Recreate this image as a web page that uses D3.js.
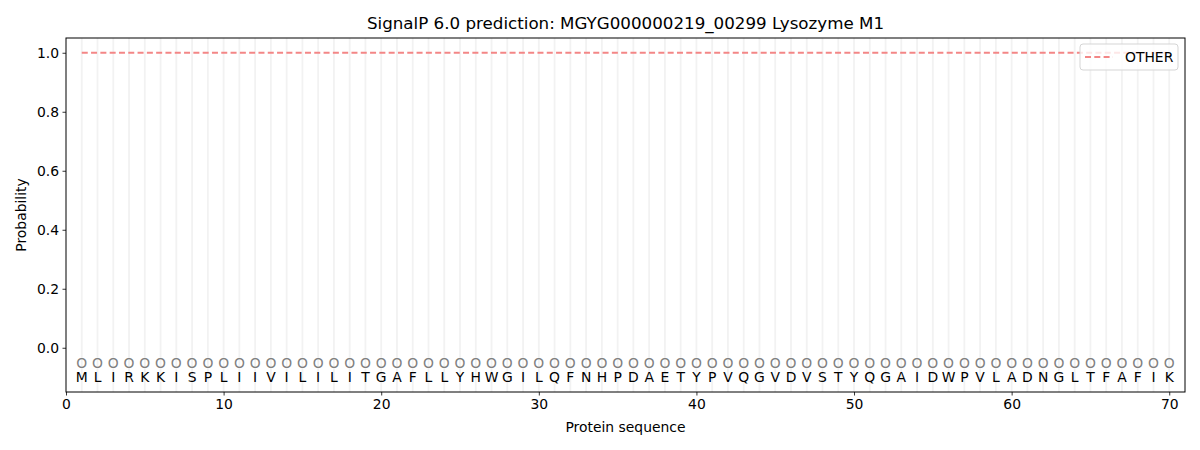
<!DOCTYPE html>
<html>
<head>
<meta charset="utf-8">
<script src="https://cdn.jsdelivr.net/npm/d3@7"></script>
<style>
body { margin: 0; background: #fff; }
text { font-family: "DejaVu Sans", sans-serif; }
</style>
</head>
<body>
<div class="chart"></div>
<script>
// residues of the protein, one letter each
const sequence = "MLIRKKISPLIIVILILITGAFLLYHWGILQFNHPDAETYPVQGVDVSTYQGAIDWPVLADNGLTFAFIK".split("")
// predicted label per residue (O = other)
const labels = sequence.map(() => "O")
// probability of OTHER per residue
const otherProb = [
  1,1,1,1,1,1,1,1,1,1, 1,1,1,1,1,1,1,1,1,1,
  1,1,1,1,1,1,1,1,1,1, 1,1,1,1,1,1,1,1,1,1,
  1,1,1,1,1,1,1,1,1,1, 1,1,1,1,1,1,1,1,1,1,
  1,1,1,1,1,1,1,1,1,1
]
const xTicks = [0, 10, 20, 30, 40, 50, 60, 70]
const yTicks = [0.0, 0.2, 0.4, 0.6, 0.8, 1.0]

const margin = { top: 38, right: 15, bottom: 58, left: 66 }
const W = 1200, H = 450
const width = W - margin.left - margin.right
const height = H - margin.top - margin.bottom

const svgRoot = d3.select('.chart').append('svg')
  .attr('width', W).attr('height', H)

const svg = svgRoot.append('g')
  .attr('transform', `translate(${margin.left},${margin.top})`)

const x = d3.scaleLinear().domain([0, 71]).range([0, width])
const y = d3.scaleLinear().domain([-0.15, 1.05]).range([height, 0])

const pos = sequence.map((d, i) => i + 1)

// vertical grid at each residue
svg.selectAll('.vgrid').data(pos).enter()
  .append('line')
  .attr('class', 'vgrid')
  .attr('x1', d => x(d)).attr('x2', d => x(d))
  .attr('y1', 0).attr('y2', height)
  .attr('stroke', '#f2f2f2').attr('stroke-width', 1.8)

// other line
const line = d3.line().x((d, i) => x(i + 1)).y(d => y(d))
svg.append('path')
  .attr('d', line(otherProb))
  .attr('fill', 'none')
  .attr('stroke', '#f38686')
  .attr('stroke-width', 2)
  .attr('stroke-dasharray', '6,3.3')

// label markers
svg.selectAll('.lab').data(labels).enter()
  .append('text')
  .attr('x', (d, i) => x(i + 1))
  .attr('y', y(-0.05))
  .attr('text-anchor', 'middle')
  .attr('dominant-baseline', 'central')
  .attr('font-size', '13.9px')
  .attr('fill', '#808080')
  .text(d => d)

// residue letters
svg.selectAll('.res').data(sequence).enter()
  .append('text')
  .attr('x', (d, i) => x(i + 1))
  .attr('y', y(-0.1))
  .attr('text-anchor', 'middle')
  .attr('dominant-baseline', 'central')
  .attr('font-size', '13.9px')
  .attr('fill', 'black')
  .text(d => d)

// axes
const xAxis = svg.append('g')
  .attr('transform', `translate(0,${height})`)
  .call(d3.axisBottom(x).tickValues(xTicks).tickFormat(d3.format('d')).tickSizeOuter(0).tickSize(3.5).tickPadding(3.5))
const yAxis = svg.append('g')
  .call(d3.axisLeft(y).tickValues(yTicks).tickFormat(d3.format('.1f')).tickSizeOuter(0).tickSize(3.5).tickPadding(3.5))

;[xAxis, yAxis].forEach(a => {
  a.selectAll('text').attr('font-size', '13.9px').attr('fill', 'black').attr('font-family', '"DejaVu Sans", sans-serif')
  a.selectAll('.tick line').attr('stroke', 'black').attr('stroke-width', 0.8)
  a.select('.domain').remove()
})

// frame
svg.append('rect')
  .attr('width', width).attr('height', height)
  .attr('fill', 'none').attr('stroke', 'black').attr('stroke-width', 1)

// titles
svgRoot.append('text')
  .attr('x', margin.left + width / 2).attr('y', 29)
  .attr('text-anchor', 'middle')
  .attr('font-size', '16.7px')
  .text('SignalP 6.0 prediction: MGYG000000219_00299 Lysozyme M1')

svgRoot.append('text')
  .attr('x', margin.left + width / 2).attr('y', 432)
  .attr('text-anchor', 'middle')
  .attr('font-size', '13.9px')
  .text('Protein sequence')

svgRoot.append('text')
  .attr('transform', `translate(26,${margin.top + height / 2}) rotate(-90)`)
  .attr('text-anchor', 'middle')
  .attr('font-size', '13.9px')
  .text('Probability')

// legend
const lg = svg.append('g').attr('transform', `translate(${width - 105},6)`)
lg.append('rect')
  .attr('width', 98).attr('height', 26).attr('rx', 3)
  .attr('fill', 'white').attr('fill-opacity', 0.8)
  .attr('stroke', '#d5d5d5')
lg.append('line')
  .attr('x1', 5).attr('x2', 33).attr('y1', 13).attr('y2', 13)
  .attr('stroke', '#f38686').attr('stroke-width', 2)
  .attr('stroke-dasharray', '6,3.3')
lg.append('text')
  .attr('x', 45).attr('y', 13)
  .attr('dominant-baseline', 'central')
  .attr('font-size', '13.9px')
  .text('OTHER')
</script>
</body>
</html>
